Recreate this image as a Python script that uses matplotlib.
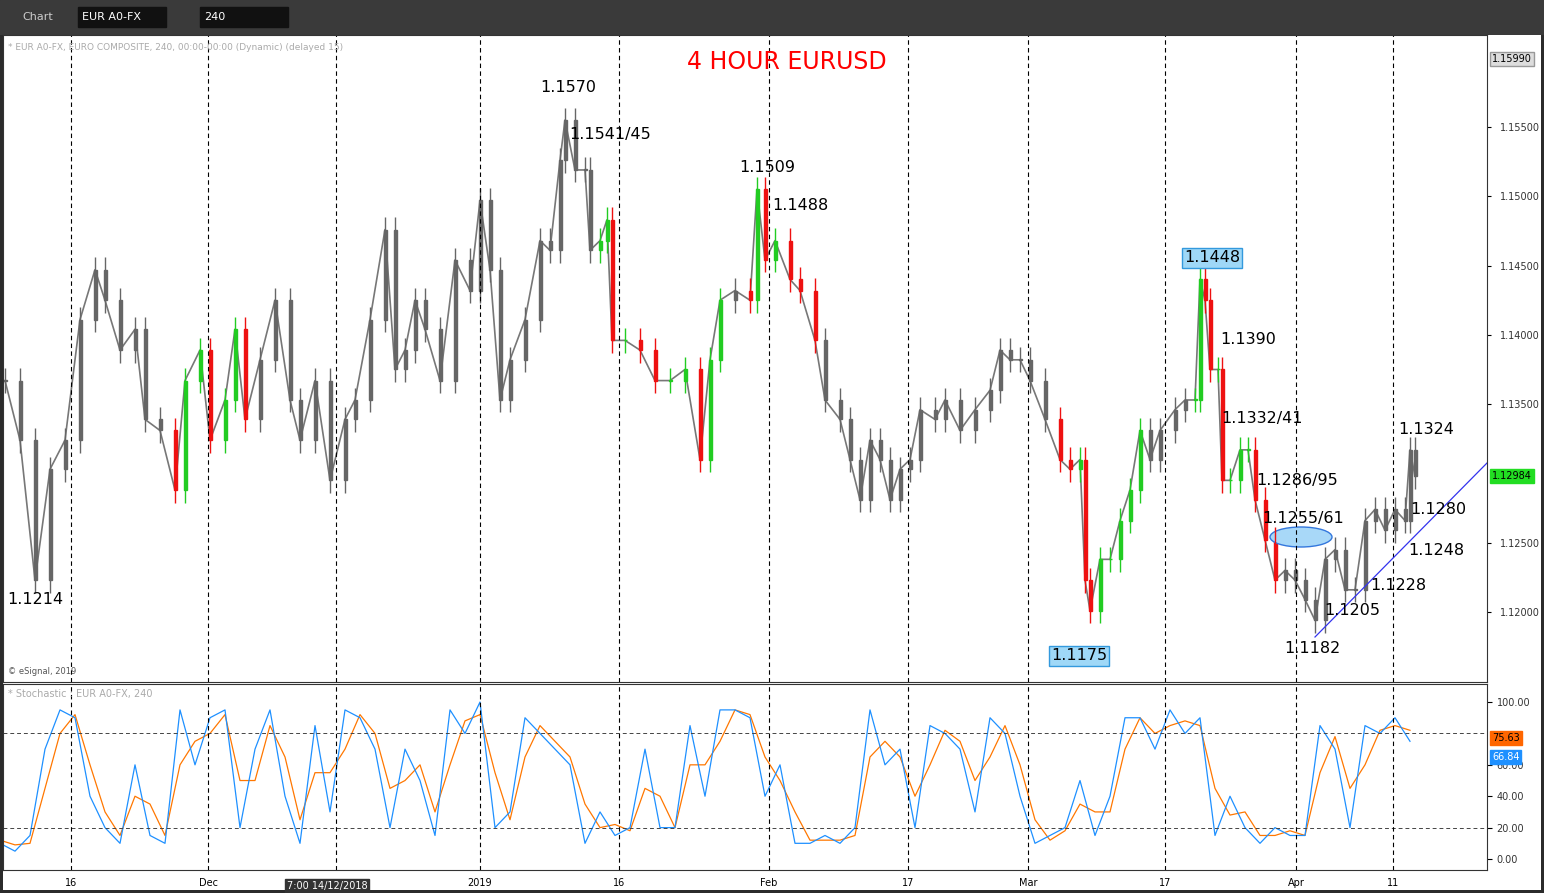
import matplotlib
matplotlib.use("Agg")
import matplotlib.pyplot as plt
from matplotlib.patches import Ellipse, Rectangle

W, H = 1544, 893
# ---- data ----
bar_x = [5,20,35,50,65,80,95,105,120,135,145,160,175,185,200,210,225,235,245,260,275,290,300,315,330,345,355,370,385,395,
         405,415,425,440,455,470,480,490,500,510,525,540,550,560,565,575,585,590,600,607,612,625,640,655,670,685,700,710,720,735,
         750,757,765,775,790,800,815,825,840,850,860,870,880,890,900,910,920,935,945,960,975,990,1000,1010,1020,1030,1045,1060,1070,1080,
         1085,1090,1100,1110,1120,1130,1140,1150,1160,1175,1185,1195,1200,1205,1210,1218,1222,1230,1240,1248,1255,1265,1275,1285,1295,1305,1315,1325,1335,1345,
         1355,1365,1375,1385,1395,1405,1410,1415]
closes = [1.1367,1.1324,1.1223,1.1303,1.1324,1.1411,1.1447,1.1425,1.1389,1.1404,1.1339,1.1331,1.1288,1.1367,1.1389,1.1324,1.1353,1.1404,1.1339,1.1382,
          1.1425,1.1353,1.1324,1.1367,1.1295,1.1339,1.1353,1.1411,1.1476,1.1375,1.1389,1.1425,1.1404,1.1367,1.1454,1.1432,1.1497,1.1447,1.1353,1.1382,
          1.1411,1.1468,1.1461,1.1526,1.1555,1.1519,1.1519,1.1461,1.1468,1.1483,1.1396,1.1396,1.1389,1.1367,1.1367,1.1375,1.1310,1.1382,1.1425,1.1432,
          1.1425,1.1505,1.1454,1.1468,1.1440,1.1432,1.1396,1.1353,1.1339,1.1310,1.1281,1.1324,1.1310,1.1281,1.1303,1.1310,1.1346,1.1339,1.1353,1.1331,
          1.1346,1.1360,1.1389,1.1382,1.1382,1.1367,1.1339,1.1310,1.1303,1.1310,1.1223,1.1201,1.1238,1.1238,1.1266,1.1288,1.1331,1.1310,1.1331,1.1346,
          1.1353,1.1353,1.1440,1.1425,1.1375,1.1375,1.1295,1.1295,1.1317,1.1317,1.1281,1.1252,1.1223,1.1230,1.1223,1.1209,1.1194,1.1238,1.1245,1.1216,
          1.1216,1.1266,1.1274,1.1259,1.1274,1.1266,1.1317,1.1298]
colored = [(170, 245), (598, 722), (745, 822), (1058, 1145), (1193, 1282)]

stoch_x = list(range(0, 1411, 15))
stoch_k = [10,5,15,70,95,90,40,20,10,60,15,10,95,60,90,95,20,70,95,40,10,85,30,95,90,70,20,70,50,15,95,80,100,20,30,90,80,70,60,10,
           30,15,20,70,20,20,85,40,95,95,90,40,60,10,10,15,10,20,95,60,70,20,85,80,70,30,90,80,40,10,15,20,50,15,40,90,90,70,95,80,
           90,15,40,20,10,20,15,15,85,70,20,85,80,90,75]
stoch_d = [12,9,10,45,80,92,60,30,15,40,35,15,60,75,80,92,50,50,85,65,25,55,55,70,92,80,45,50,60,30,60,88,92,55,25,65,85,75,65,35,
           20,22,18,45,40,20,60,60,75,95,92,65,50,30,12,12,12,15,65,75,65,40,60,82,75,50,65,85,60,25,12,18,35,30,30,70,90,80,85,88,
           85,45,28,30,15,15,18,15,55,78,45,60,82,85,82]

price_ticks = [1.155, 1.150, 1.145, 1.140, 1.135, 1.125, 1.120]
date_pos = [71,208,336,480,619,769,908,1028,1165,1296,1393]
date_lab = ["16","Dec","","2019","16","Feb","17","Mar","17","Apr","11"]

labels = [("1.1214",35,600,False),("1.1570",568,88,False),("1.1541/45",610,134,False),("1.1509",767,167,False),
          ("1.1488",800,205,False),("1.1448",1212,258,True),("1.1390",1248,340,False),("1.1332/41",1262,419,False),
          ("1.1286/95",1297,481,False),("1.1255/61",1303,518,False),("1.1324",1426,430,False),("1.1280",1438,510,False),
          ("1.1248",1436,551,False),("1.1228",1398,585,False),("1.1205",1352,611,False),("1.1182",1312,649,False),
          ("1.1175",1079,656,True)]

def py(y):  # pixel y -> price
    return 1.155 - (y - 127) / 13857.0

fig = plt.figure(figsize=(W/100, H/100), dpi=100, facecolor="#2b2b2b")
def axrect(x0, y0, x1, y1):
    return [x0/W, 1-y1/H, (x1-x0)/W, (y1-y0)/H]

# toolbar
tb = fig.add_axes(axrect(0,0,W,35)); tb.set_xlim(0,W); tb.set_ylim(35,0); tb.axis("off")
tb.add_patch(Rectangle((0,0),W,35,color="#3a3a3a"))
tb.text(22,17,"Chart",color="#cccccc",fontsize=8,va="center")
tb.add_patch(Rectangle((78,7),88,20,color="#111111"))
tb.text(82,17,"EUR A0-FX",color="white",fontsize=8,va="center")
tb.add_patch(Rectangle((200,7),88,20,color="#111111"))
tb.text(204,17,"240",color="white",fontsize=8,va="center")

bg = fig.add_axes(axrect(3,35,1541,890)); bg.axis("off")
bg.add_patch(Rectangle((0,0),1,1,transform=bg.transAxes,color="white"))

ax = fig.add_axes(axrect(3,35,1487,682))
ax.set_xlim(3,1487); ax.set_ylim(py(682), py(35))
ax.set_facecolor("white")
prev = closes[0]
for x, c in zip(bar_x, closes):
    o = prev
    col = "#666666"
    for a, b in colored:
        if a <= x <= b:
            col = "#22cc22" if c >= o else "#ee1111"
    lo, hi = min(o, c), max(o, c)
    ax.vlines(x, lo-0.0009, hi+0.0009, color=col, lw=1)
    ax.add_patch(Rectangle((x-1.5, lo), 3, max(hi-lo, 0.00005), color=col))
    prev = c
ax.plot(bar_x, closes, color="#777777", lw=1.2, zorder=0)
for d in date_pos:
    ax.axvline(d, color="black", ls=(0,(4,3)), lw=0.8)
ax.yaxis.tick_right(); ax.set_yticks(price_ticks)
ax.set_yticklabels([f"{t:.5f}" for t in price_ticks], fontsize=7, color="#333333")
ax.tick_params(axis="y", length=3, pad=6)
ax.set_xticks([])
for s in ax.spines.values(): s.set_color("#333333")
ax.text(787, py(62), "4 HOUR EURUSD", color="red", fontsize=17, ha="center", va="center")
for t, x, y, box in labels:
    kw = dict(bbox=dict(boxstyle="square,pad=0.15", fc="#9fd8f7", ec="#3399dd")) if box else {}
    ax.text(x, py(y), t, fontsize=11.5, ha="center", va="center", **kw)
ax.plot([1315,1487],[py(637),py(463)], color="#3333ee", lw=0.9)
ax.add_patch(Ellipse((1301, py(537)), 62, 20/13857, angle=0, fc="#a8d8f8", ec="#3377dd"))
ax.text(8, py(47), "* EUR A0-FX, EURO COMPOSITE, 240, 00:00-00:00 (Dynamic) (delayed 15)", fontsize=6.5, color="#aaaaaa", va="center")
ax.text(8, py(672), "© eSignal, 2019", fontsize=6, color="#555555", va="center")
ax.text(1492, 1.1599, "1.15990", fontsize=7, va="center", clip_on=False,
        bbox=dict(boxstyle="square,pad=0.2", fc="#dddddd", ec="#999999"))
ax.text(1492, 1.12984, "1.12984", fontsize=7, va="center", clip_on=False,
        bbox=dict(boxstyle="square,pad=0.2", fc="#22dd22", ec="#22dd22"))

sx = fig.add_axes(axrect(3,684,1487,870))
sx.set_xlim(3,1487); sx.set_ylim(-7,111.5)
sx.plot(stoch_x, stoch_d, color="#ff7700", lw=0.9)
sx.plot(stoch_x, stoch_k, color="#1e90ff", lw=0.9)
sx.axhline(80, color="#444444", ls=(0,(4,3)), lw=0.7)
sx.axhline(20, color="#444444", ls=(0,(4,3)), lw=0.7)
for d in date_pos:
    sx.axvline(d, color="black", ls=(0,(4,3)), lw=0.8)
sx.yaxis.tick_right(); sx.set_yticks([0,20,40,60,100])
sx.set_yticklabels([f"{v:.2f}" for v in [0,20,40,60,100]], fontsize=7, color="#333333")
sx.set_xticks(date_pos); sx.set_xticklabels(date_lab, fontsize=7)
sx.tick_params(axis="x", length=0, pad=6)
for s in sx.spines.values(): s.set_color("#333333")
sx.text(8, 105, "* Stochastic : EUR A0-FX, 240", fontsize=7, color="#aaaaaa", va="center")
sx.text(1492, 77, "75.63", fontsize=7, va="center", clip_on=False, color="black",
        bbox=dict(boxstyle="square,pad=0.2", fc="#ff6600", ec="#ff6600"))
sx.text(1492, 65, "66.84", fontsize=7, va="center", clip_on=False, color="white",
        bbox=dict(boxstyle="square,pad=0.2", fc="#1e90ff", ec="#1e90ff"))
sx.text(327, -17, "7:00 14/12/2018", fontsize=7, color="white", ha="center", va="center", clip_on=False,
        bbox=dict(boxstyle="square,pad=0.2", fc="#333333", ec="#333333"))

fig.savefig("out.png", dpi=100, facecolor=fig.get_facecolor())
